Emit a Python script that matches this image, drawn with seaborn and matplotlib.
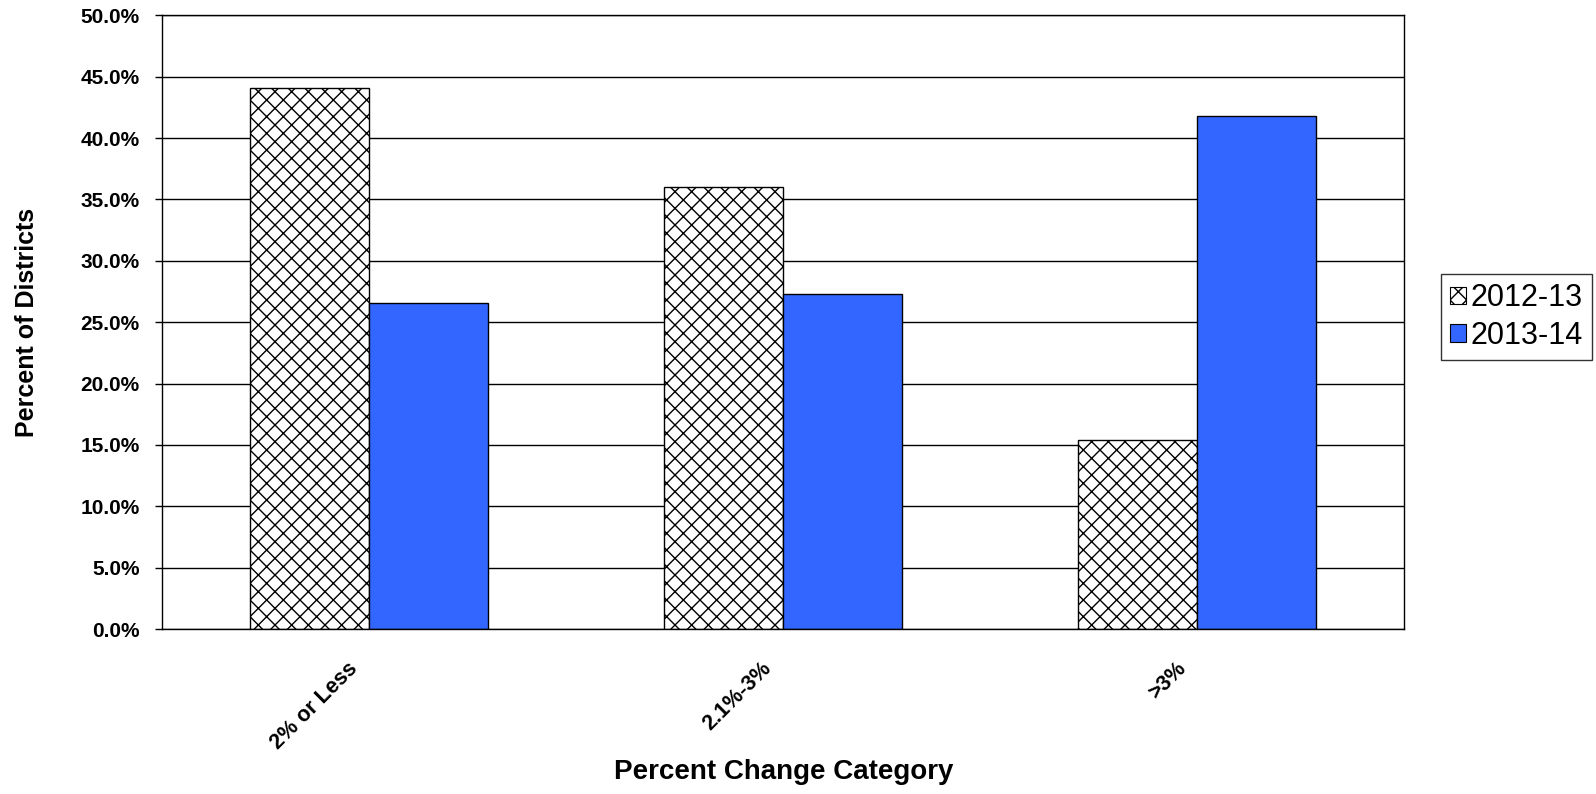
import matplotlib
matplotlib.use("Agg")
import matplotlib.pyplot as plt
import matplotlib.transforms as mtransforms
from matplotlib.patches import Patch
import pandas as pd
import seaborn as sns

# ── Data ─────────────────────────────────────────────────────────────
categories = ["2% or Less", "2.1%-3%", ">3%"]
years = ["2012-13", "2013-14"]
pct_2012_13 = [44.1, 36.0, 15.4]
pct_2013_14 = [26.6, 27.3, 41.8]
yticks = [0, 5, 10, 15, 20, 25, 30, 35, 40, 45, 50]

df = pd.DataFrame({
    "category": categories * 2,
    "year": [years[0]] * 3 + [years[1]] * 3,
    "pct": pct_2012_13 + pct_2013_14,
})

# ── Style ────────────────────────────────────────────────────────────
sns.set_theme(style="white")
plt.rcParams["font.family"] = ["Liberation Sans", "DejaVu Sans"]
plt.rcParams["hatch.linewidth"] = 1.0
plt.rcParams["text.color"] = "black"
plt.rcParams["axes.labelcolor"] = "black"
plt.rcParams["xtick.color"] = "black"
plt.rcParams["ytick.color"] = "black"

BLUE = "#3366FF"

fig = plt.figure(figsize=(15.96, 7.94), dpi=100)
ax = fig.add_axes([0.1015, 0.2078, 0.7785, 0.7729])

sns.barplot(
    data=df, x="category", y="pct", hue="year",
    palette={years[0]: "white", years[1]: BLUE}, saturation=1,
    width=0.575, edgecolor="black", linewidth=1.0,
    legend=False, ax=ax,
)

# cross-hatch the 2012-13 bars
for bar in ax.patches[:len(categories)]:
    bar.set_hatch("xx")

ax.set_ylim(0, 50)
ax.set_xlim(-0.5, len(categories) - 0.5)
ax.set_yticks(yticks)
ax.set_yticklabels([f"{v:.1f}%" for v in yticks], fontsize=15, fontweight="bold")
ax.set_xticks(range(len(categories)))
ax.set_xticklabels(categories, rotation=45, ha="right", rotation_mode="anchor",
                   fontsize=15.5, fontweight="bold")
ax.tick_params(axis="y", which="major", direction="out", length=5, width=1,
               color="black", left=True, pad=11)
ax.tick_params(axis="x", length=0, pad=21)

# nudge the rotated category labels left so they end just before the tick
shift = mtransforms.ScaledTranslation(-0.22, 0, fig.dpi_scale_trans)
for lab in ax.get_xticklabels():
    lab.set_transform(lab.get_transform() + shift)

ax.grid(axis="y", color="black", linewidth=1.0)
ax.set_axisbelow(True)
for s in ax.spines.values():
    s.set_color("black")
    s.set_linewidth(1.0)

ax.set_ylabel("Percent of Districts", fontsize=18, fontweight="bold", labelpad=30)
ax.set_xlabel("Percent Change Category", fontsize=20, fontweight="bold", labelpad=4)

handles = [
    Patch(facecolor="white", edgecolor="black", hatch="xx", linewidth=0.8),
    Patch(facecolor=BLUE, edgecolor="black", linewidth=0.8),
]
leg = fig.legend(
    handles, years, loc="upper left", bbox_to_anchor=(0.903, 0.655),
    bbox_transform=fig.transFigure, fontsize=22, frameon=True, fancybox=False,
    edgecolor="black", handlelength=0.5, handleheight=0.5, handletextpad=0.15,
    borderpad=0.3, labelspacing=0.25, borderaxespad=0,
)
leg.get_frame().set_linewidth(1.0)

fig.savefig("out.png", dpi=100)
